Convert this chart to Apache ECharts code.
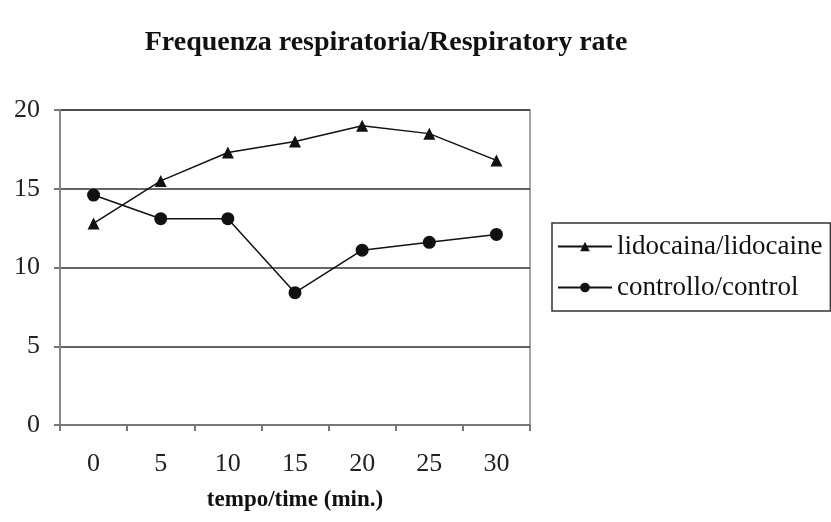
<!DOCTYPE html>
<html>
<head>
<meta charset="utf-8">
<script src="https://cdn.jsdelivr.net/npm/echarts@6/dist/echarts.min.js"></script>
<style>
  html, body { margin: 0; padding: 0; background: #fff; }
  #chart { width: 831px; height: 522px; }
</style>
</head>
<body>
<div id="chart"></div>
<script>
const categories = ['0', '5', '10', '15', '20', '25', '30'];
const lidocaine = [12.8, 15.5, 17.3, 18.0, 19.0, 18.5, 16.8];
const control = [14.6, 13.1, 13.1, 8.4, 11.1, 11.6, 12.1];

const font = 'Liberation Serif, Times New Roman, serif';

const chart = echarts.init(document.getElementById('chart'));

const option = {
  backgroundColor: '#fff',
  animation: false,
  title: {
    text: 'Frequenza respiratoria/Respiratory rate',
    left: 381,
    top: 24,
    textAlign: 'center',
    textStyle: { fontFamily: font, fontWeight: 'bold', fontSize: 28, color: '#111' }
  },
  grid: {
    left: 60,
    right: 301,
    top: 110,
    bottom: 97,
    show: true,
    borderColor: '#888',
    borderWidth: 1.5
  },
  legend: {
    orient: 'vertical',
    left: 552,
    top: 223,
    padding: [10, 8, 10, 5],
    itemGap: 14,
    itemWidth: 54,
    itemHeight: 12,
    borderColor: '#333',
    borderWidth: 1.5,
    textStyle: { fontFamily: font, fontSize: 27, color: '#111' },
    data: ['lidocaina/lidocaine', 'controllo/control']
  },
  xAxis: {
    type: 'category',
    data: categories,
    name: 'tempo/time (min.)',
    nameLocation: 'middle',
    nameGap: 64,
    nameTextStyle: { fontFamily: font, fontWeight: 'bold', fontSize: 23, color: '#111' },
    axisLine: { lineStyle: { color: '#777', width: 2 } },
    axisTick: { show: true, length: 6, lineStyle: { color: '#777', width: 2 } },
    axisLabel: { fontFamily: font, fontSize: 26, color: '#222', margin: 26 }
  },
  yAxis: {
    type: 'value',
    min: 0,
    max: 20,
    interval: 5,
    axisLine: { show: true, lineStyle: { color: '#888', width: 2 } },
    axisTick: { show: true, length: 6, lineStyle: { color: '#777', width: 2 } },
    axisLabel: { fontFamily: font, fontSize: 26, color: '#222', margin: 20 },
    splitLine: { lineStyle: { color: '#333', width: 1.5 } }
  },
  series: [
    {
      name: 'lidocaina/lidocaine',
      type: 'line',
      data: lidocaine,
      symbol: 'triangle',
      symbolSize: 12,
      lineStyle: { color: '#111', width: 1.5 },
      itemStyle: { color: '#111' }
    },
    {
      name: 'controllo/control',
      type: 'line',
      data: control,
      symbol: 'circle',
      symbolSize: 13,
      lineStyle: { color: '#111', width: 1.5 },
      itemStyle: { color: '#111' }
    }
  ]
};

chart.setOption(option);
</script>
</body>
</html>
